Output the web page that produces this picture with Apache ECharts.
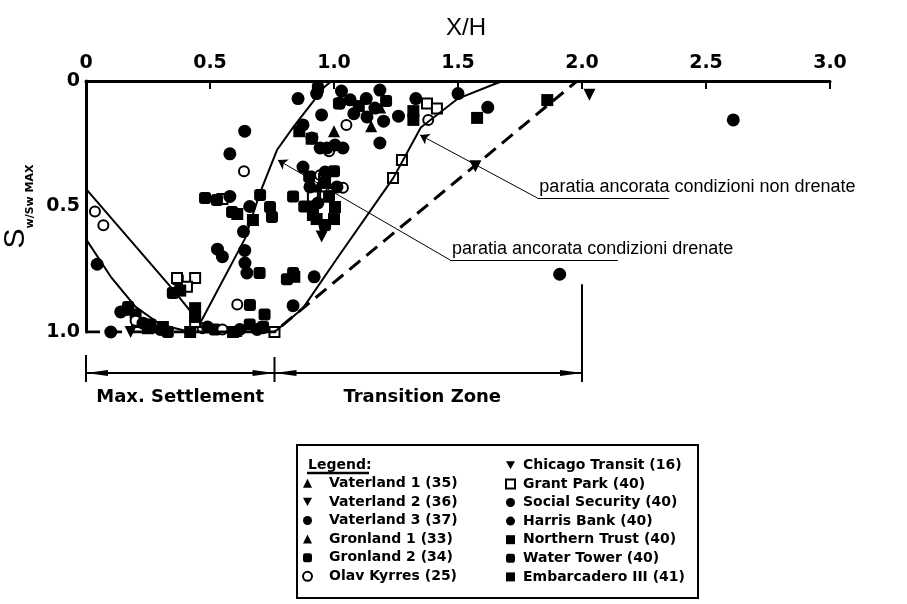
<!DOCTYPE html>
<html>
<head>
<meta charset="utf-8">
<script src="https://cdn.jsdelivr.net/npm/echarts@6/dist/echarts.min.js"></script>
<style>
  html, body { margin: 0; padding: 0; background: #fff; }
  #chart { width: 907px; height: 604px; }
</style>
</head>
<body>
<div id="chart"></div>
<script>
// tick labels
const xTickLabels = ["0", "0.5", "1.0", "1.5", "2.0", "2.5", "3.0"];
const yTickLabels = ["0", "0.5", "1.0"];

// measured points [X/H, Sw/Sw max] per case history
const vaterland1 = [[0.97, 0.45], [1.15, 0.18], [0.2, 0.96], [1.0, 0.2]];
const vaterland2 = [[0.96, 0.6], [1.57, 0.34], [0.64, 1.01], [0.18, 1.0], [0.29, 0.99]];
const vaterland3 = [[0.855, 0.07], [1.03, 0.04], [0.95, 0.135], [0.875, 0.175], [1.065, 0.075], [1.5, 0.05], [1.62, 0.105], [0.64, 0.2], [0.58, 0.29], [0.635, 0.6], [0.045, 0.73], [0.92, 0.78], [2.61, 0.155], [1.91, 0.77]];
const gronland1 = [[0.935, 0.42], [1.19, 0.11], [0.61, 1.0]];
const gronland2 = [[0.935, 0.03], [1.02, 0.09], [1.21, 0.08], [0.835, 0.46], [0.7, 0.765], [0.835, 0.765], [0.81, 0.79], [0.37, 0.79], [0.35, 0.845], [0.17, 0.9], [0.2, 0.93], [0.26, 0.97], [0.36, 1.01], [0.52, 0.99], [0.57, 1.01], [0.66, 0.97], [0.72, 0.93]];
const olavKyrres = [[0.036, 0.52], [0.07, 0.575], [0.637, 0.36], [1.05, 0.175], [0.61, 0.89], [0.714, 0.985], [1.036, 0.425], [0.944, 0.375], [0.98, 0.28], [0.2, 0.955], [1.38, 0.155], [0.55, 0.99], [0.47, 0.985]];
const chicagoTransit = [[2.03, 0.055], [0.95, 0.62]];
const grantPark = [[0.367, 0.785], [0.44, 0.785], [0.407, 0.82], [0.915, 0.46], [0.964, 0.46], [1.375, 0.09], [1.415, 0.11], [1.238, 0.386], [1.274, 0.315], [0.3, 0.98], [0.55, 0.47], [0.44, 0.96], [0.96, 0.39], [0.76, 1.0]];
const socialSecurity = [[1.185, 0.036], [1.165, 0.108], [1.185, 0.247], [0.66, 0.5], [0.835, 0.895], [0.972, 0.267], [1.036, 0.267], [1.012, 0.422], [0.903, 0.422], [1.33, 0.07], [0.53, 0.67], [0.55, 0.7], [0.14, 0.92], [0.3, 0.99], [0.4, 1.01], [0.62, 0.99], [0.69, 0.99]];
const harrisBank = [[1.024, 0.088], [0.911, 0.227], [1.004, 0.255], [0.944, 0.267], [1.133, 0.143], [0.875, 0.343], [0.964, 0.363], [0.935, 0.486], [0.641, 0.725], [0.649, 0.765], [0.58, 0.46], [0.64, 0.675], [0.165, 0.91], [0.23, 0.965], [0.49, 0.98], [0.1, 1.0], [0.93, 0.05], [1.08, 0.13], [1.13, 0.07], [1.2, 0.16], [1.26, 0.14]];
const northernTrust = [[0.44, 0.905], [0.44, 0.94], [0.38, 0.835], [0.86, 0.2], [0.91, 0.23], [1.1, 0.1], [1.32, 0.12], [0.61, 0.53], [0.25, 0.985], [0.93, 0.55], [1.0, 0.55]];
const waterTower = [[0.48, 0.466], [0.528, 0.474], [0.589, 0.522], [0.75, 0.542], [0.742, 0.502], [0.702, 0.454], [0.661, 0.892], [0.714, 0.98], [0.964, 0.574], [0.33, 1.0], [0.9, 0.38], [0.98, 0.46], [1.0, 0.36], [0.88, 0.5]];
const embarcadero = [[1.86, 0.076], [1.577, 0.147], [1.32, 0.155], [0.915, 0.502], [0.915, 0.534], [1.004, 0.502], [0.964, 0.406], [0.31, 0.98], [0.42, 1.0], [0.593, 1.0], [0.673, 0.554], [0.84, 0.78]];

// design curves
const drenateCurve = [[0, 0.43], [0.35, 0.83], [0.46, 0.965], [0.64, 0.63], [0.7, 0.45], [0.77, 0.275], [0.835, 0.185], [0.96, 0.025], [0.99, 0]];
const nonDrenateCurve = [[0, 0.63], [0.1, 0.78], [0.2, 0.9], [0.3, 0.97], [0.42, 1.0], [0.76, 1.0], [0.875, 0.905], [1.01, 0.71], [1.24, 0.385], [1.35, 0.185], [1.5, 0.07], [1.64, 0.015], [1.68, 0]];
const envelopeCurve = [[0, 1.0], [0.76, 1.0], [0.875, 0.905], [1.98, 0]];

// annotation leaders: [from, arrow tip], underline [start, end]
const drenateLeader = [[1.468, 0.713], [0.774, 0.315]];
const drenateUnderline = [[1.468, 0.713], [2.145, 0.713]];
const nonDrenateLeader = [[1.82, 0.466], [1.347, 0.215]];
const nonDrenateUnderline = [[1.82, 0.466], [2.35, 0.466]];

// zones below the plot
const zoneBounds = [0, 0.76, 2.0];
const zoneNames = ["Max. Settlement", "Transition Zone"];

const leftLegend = ["Vaterland 1 (35)", "Vaterland 2 (36)", "Vaterland 3 (37)", "Gronland 1 (33)", "Gronland 2 (34)", "Olav Kyrres (25)"];
const rightLegend = ["Chicago Transit (16)", "Grant Park (40)", "Social Security (40)", "Harris Bank (40)", "Northern Trust (40)", "Water Tower (40)", "Embarcadero III (41)"];

const LETTER = "DejaVu Sans";
const SANS = "Liberation Sans";
const DOWN = "path://M0,0 L10,0 L5,9 Z";

function pts(name, data, symbol, size, rotate) {
  const empty = symbol.indexOf("empty") === 0;
  return {
    name: name,
    type: "scatter",
    data: data,
    symbol: symbol,
    symbolSize: size,
    symbolRotate: rotate || 0,
    itemStyle: empty
      ? { color: "#000", borderColor: "#000", borderWidth: 2.5, opacity: 1 }
      : { color: "#000", opacity: 1 },
    z: 3
  };
}

function curve(data, lineType, width) {
  return {
    type: "line",
    data: data,
    symbol: "none",
    lineStyle: { color: "#000", width: width, type: lineType },
    z: 4,
    silent: true
  };
}

const drenateSeries = curve(drenateCurve, "solid", 2);
drenateSeries.markLine = {
  silent: true,
  symbol: ["none", "arrow"],
  symbolSize: 9,
  lineStyle: { color: "#000", width: 1, type: "solid" },
  label: { show: false },
  data: [
    [{ coord: drenateLeader[0] }, { coord: drenateLeader[1] }],
    [{ coord: nonDrenateLeader[0] }, { coord: nonDrenateLeader[1] }]
  ]
};

const nonDrenateSeries = curve(nonDrenateCurve, "solid", 2);
nonDrenateSeries.markLine = {
  silent: true,
  symbol: ["none", "none"],
  lineStyle: { color: "#000", width: 1, type: "solid" },
  label: {
    show: true,
    position: "insideStartTop",
    formatter: "{b}",
    distance: 2,
    fontSize: 18,
    fontFamily: SANS,
    color: "#000"
  },
  data: [
    [{ name: "paratia ancorata condizioni drenate", coord: drenateUnderline[0] }, { coord: drenateUnderline[1] }],
    [{ name: "paratia ancorata condizioni non drenate", coord: nonDrenateUnderline[0] }, { coord: nonDrenateUnderline[1] }]
  ]
};

const legendText = { fontFamily: LETTER, fontWeight: "bold", fontSize: 14, color: "#000", lineHeight: 18.6 };
const legendItems = names => names.map(n =>
  (n.indexOf("Vaterland 2") === 0 || n.indexOf("Chicago") === 0) ? { name: n, icon: DOWN } : { name: n });

const option = {
  backgroundColor: "#fff",
  animation: false,
  grid: { left: 86, top: 81, width: 744, height: 251, outerBoundsMode: "none", containLabel: false },
  xAxis: {
    type: "value",
    position: "top",
    min: 0,
    max: 3,
    interval: 0.5,
    name: "X/H",
    nameLocation: "middle",
    nameGap: 41,
    nameTextStyle: { fontFamily: SANS, fontSize: 24, color: "#000", padding: [0, 0, 0, 16] },
    axisLine: { show: true, lineStyle: { color: "#000", width: 3 } },
    axisTick: { show: true, inside: true, length: 8, lineStyle: { color: "#000", width: 2 } },
    axisLabel: {
      margin: 8,
      fontFamily: LETTER,
      fontWeight: "bold",
      fontSize: 19,
      color: "#000",
      formatter: (v, i) => xTickLabels[i]
    },
    splitLine: { show: false }
  },
  yAxis: {
    type: "value",
    inverse: true,
    min: 0,
    max: 1,
    interval: 0.5,
    name: "{s|S}{sub|w/Sw MAX}",
    nameLocation: "middle",
    nameRotate: 90,
    nameGap: 48,
    nameTextStyle: {
      color: "#000",
      rich: {
        s: { fontFamily: SANS, fontSize: 30, color: "#000", verticalAlign: "bottom", padding: [0, 0, 5, 0] },
        sub: { fontFamily: LETTER, fontWeight: "bold", fontSize: 11, color: "#000", verticalAlign: "bottom" }
      }
    },
    axisLine: { show: true, lineStyle: { color: "#000", width: 3 } },
    axisTick: { show: false },
    axisLabel: {
      margin: 6,
      fontFamily: LETTER,
      fontWeight: "bold",
      fontSize: 19,
      color: "#000",
      formatter: (v, i) => yTickLabels[i]
    },
    splitLine: { show: false }
  },
  legend: [
    {
      data: legendItems(leftLegend),
      orient: "vertical",
      left: 302,
      top: 474,
      itemWidth: 9,
      itemHeight: 9,
      itemGap: 0,
      padding: 0,
      selectedMode: false,
      textStyle: Object.assign({ padding: [0, 0, 0, 12] }, legendText)
    },
    {
      data: legendItems(rightLegend),
      orient: "vertical",
      left: 505,
      top: 456,
      itemWidth: 9,
      itemHeight: 9,
      itemGap: 0,
      padding: 0,
      selectedMode: false,
      textStyle: Object.assign({ padding: [0, 0, 0, 3] }, legendText)
    }
  ],
  series: [
    drenateSeries,
    nonDrenateSeries,
    curve(envelopeCurve, [14, 8], 3),
    pts(leftLegend[0], vaterland1, "triangle", 12),
    pts(leftLegend[1], vaterland2, "triangle", 12, 180),
    pts(leftLegend[2], vaterland3, "circle", 13),
    pts(leftLegend[3], gronland1, "triangle", 10),
    pts(leftLegend[4], gronland2, "roundRect", 12),
    pts(leftLegend[5], olavKyrres, "emptyCircle", 10),
    pts(rightLegend[0], chicagoTransit, "triangle", 12, 180),
    pts(rightLegend[1], grantPark, "emptyRect", 10),
    pts(rightLegend[2], socialSecurity, "circle", 13),
    pts(rightLegend[3], harrisBank, "circle", 13),
    pts(rightLegend[4], northernTrust, "rect", 12),
    pts(rightLegend[5], waterTower, "roundRect", 12),
    pts(rightLegend[6], embarcadero, "rect", 12)
  ]
};

const chart = echarts.init(document.getElementById("chart"), null, { renderer: "canvas" });
chart.setOption(option);

// zone bracket under the plot, and the legend frame
const px = v => chart.convertToPixel({ xAxisIndex: 0 }, v);
const py = v => chart.convertToPixel({ yAxisIndex: 0 }, v);
const barY = py(1) + 41;
const elements = [];

function arrowHead(x, y, dir) {
  return {
    type: "polygon",
    shape: { points: [[x, y], [x - dir * 22, y - 3], [x - dir * 22, y + 3]] },
    style: { fill: "#000" }
  };
}

const xs = zoneBounds.map(px);
elements.push({ type: "line", shape: { x1: xs[0], y1: barY, x2: xs[2], y2: barY }, style: { stroke: "#000", lineWidth: 2 } });
elements.push({ type: "line", shape: { x1: xs[0], y1: barY - 18, x2: xs[0], y2: barY + 9 }, style: { stroke: "#000", lineWidth: 2 } });
elements.push({ type: "line", shape: { x1: xs[1], y1: barY - 16, x2: xs[1], y2: barY + 9 }, style: { stroke: "#000", lineWidth: 2 } });
elements.push({ type: "line", shape: { x1: xs[2], y1: py(0.81), x2: xs[2], y2: barY + 9 }, style: { stroke: "#000", lineWidth: 2 } });
elements.push(arrowHead(xs[0], barY, -1), arrowHead(xs[1], barY, 1), arrowHead(xs[1], barY, -1), arrowHead(xs[2], barY, 1));
zoneNames.forEach((name, i) => {
  elements.push({
    type: "text",
    x: (xs[i] + xs[i + 1]) / 2 - (i === 1 ? 6 : 0),
    y: barY + 24,
    style: { text: name, fontFamily: LETTER, fontWeight: "bold", fontSize: 18, fill: "#000", align: "center", verticalAlign: "middle" }
  });
});

// legend frame and heading
elements.push({ type: "rect", shape: { x: 297, y: 445, width: 401, height: 153 }, style: { fill: "none", stroke: "#000", lineWidth: 2 }, z: -1 });
elements.push({ type: "text", x: 308, y: 465, style: { text: "Legend:", fontFamily: LETTER, fontWeight: "bold", fontSize: 14, fill: "#000", verticalAlign: "middle" } });
elements.push({ type: "line", shape: { x1: 307, y1: 473, x2: 369, y2: 473 }, style: { stroke: "#000", lineWidth: 2.5 } });

chart.setOption({ graphic: { elements: elements } });
</script>
</body>
</html>
